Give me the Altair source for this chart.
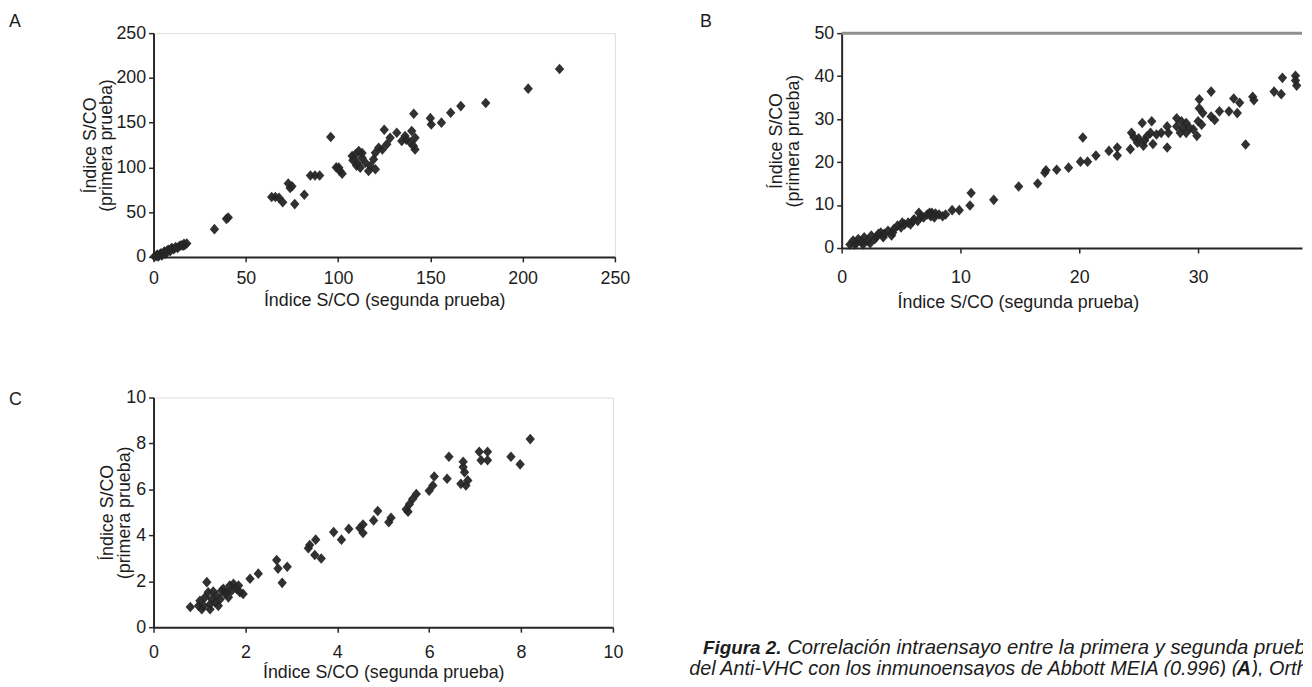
import altair as alt
import pandas as pd

FONT = "Liberation Sans, Arial, Helvetica, sans-serif"
INK = "#262626"
FRAME = "#8f8f8f"
TXT = "#1c1c1c"
DIAMOND = "M0,-1L0.88,0L0,1L-0.88,0Z"

# ---------------- Panel A (Abbott MEIA) ----------------
a_x = [0.5, 1.5, 2, 3, 3.5, 4, 4.5, 5, 5.5, 6, 6.5, 7, 7.5, 8, 9, 9.5, 10, 11, 12, 13, 14, 15, 16, 16.5, 17, 18, 2.5,
       33, 39.5, 40.5,
       64, 66, 68, 70, 73, 74, 75, 76.5, 81.7, 85, 87.5, 90,
       96, 99, 100.4, 101, 102.2,
       107.6, 109.4, 111.2, 113, 110.3, 114.8, 112, 117.5, 120.2, 116.5, 119.2, 110, 108, 113,
       120.2, 122, 124, 126.4, 125, 128.2, 131.8, 134.5, 136.3, 139.9, 141.7, 140.8, 141.7, 139, 137,
       141, 150, 150.5, 156, 161, 166.5, 180, 203, 220]
a_y = [0.5, 1, 2.5, 1.5, 3, 4, 1.5, 3, 5, 6, 3.5, 5, 7, 8, 6.5, 9, 10, 8.5, 11, 10, 12, 13, 12.5, 14.5, 13.5, 15, 0.5,
       31, 42.5, 44,
       67, 67, 66, 61, 82, 77, 79, 59, 69.5, 91, 91, 91,
       134, 100, 99.7, 96, 93,
       112.7, 114.6, 118.3, 110.8, 105.3, 105.3, 99.7, 101.6, 97.9, 96, 109, 102, 108, 116,
       116.4, 122, 120, 125.8, 142, 133, 138.7, 129.5, 135, 140.6, 133, 124, 120, 128, 131,
       160, 155, 148, 150, 161, 168.5, 172, 188, 210]
a_ticks = [0, 50, 100, 150, 200, 250]

# ---------------- Panel B ----------------
b_x = [0.7, 0.97, 1.1, 1.25, 1.4, 1.7, 1.8, 1.9, 2.2, 2.4, 2.5, 2.8, 2.9, 3.1, 3.3, 3.5, 3.6, 3.9, 4.2, 4.3,
       4.4, 4.7, 5.0, 5.1, 5.3, 5.6, 5.8, 6.0, 6.1, 6.4, 6.5, 6.7, 6.9, 7.2, 7.4, 7.5, 7.6, 7.8, 7.9, 8.2,
       8.5, 8.75, 9.3, 9.9,
       10.8, 10.9, 12.8, 14.9, 16.5, 17.1, 17.2, 18.1, 19.1, 20.1, 20.7, 20.3, 21.4, 22.5, 23.2, 23.2,
       24.3, 24.4, 24.9, 25.3, 25.4, 25.7, 26.0, 26.1, 26.5, 26.9, 27.4, 27.5, 27.4, 25.0, 25.5, 26.2, 24.6,
       28.2, 28.6, 29.0, 28.2, 28.75, 29.3, 28.5, 29.0, 29.6, 29.9, 30.0, 30.3, 30.1, 30.4, 30.1, 31.1,
       31.1, 31.4, 31.8, 32.6, 33.0, 33.5, 33.3, 34.0, 34.6, 34.7, 36.4, 37.0, 37.1, 38.2, 38.3, 38.2]
b_y = [0.8, 1.75, 0.8, 1.1, 2.1, 1.4, 0.8, 2.5, 1.7, 1.1, 2.9, 2.1, 2.5, 3.3, 3.6, 2.5, 3.3, 4.0, 2.9, 3.6,
       4.4, 5.2, 4.8, 5.9, 5.5, 5.9, 5.5, 6.3, 6.7, 6.3, 8.2, 7.4, 7.1, 7.8, 8.2, 7.4, 8.2, 7.1, 8.0, 7.8,
       7.4, 7.8, 8.8, 8.8,
       9.9, 12.8, 11.2, 14.3, 15.0, 17.5, 18.1, 18.2, 18.7, 20.1, 20.1, 25.7, 21.5, 22.6, 23.4, 21.5,
       23.0, 26.8, 24.5, 29.1, 23.8, 26.0, 26.8, 29.5, 26.4, 26.8, 28.3, 26.8, 23.4, 25.5, 25.0, 24.2, 25.8,
       30.2, 29.5, 29.1, 28.3, 27.9, 27.9, 26.8, 26.8, 27.6, 26.1, 29.5, 28.7, 32.5, 31.4, 34.6, 36.4,
       30.6, 29.8, 31.8, 31.8, 34.8, 33.8, 31.4, 24.1, 35.2, 34.4, 36.4, 35.8, 39.6, 40.1, 37.8, 39.0]
b_xmax = 38.75         # the panel runs off the right edge of the page in the original
b_xticks = [0, 10, 20, 30]
b_yticks = [0, 10, 20, 30, 40, 50]

# ---------------- Panel C ----------------
c_x = [0.8, 0.98, 1.01, 1.05, 1.09, 1.12, 1.16, 1.19, 1.23, 1.23, 1.27, 1.3, 1.34, 1.37, 1.41, 1.45, 1.48,
       1.52, 1.56, 1.59, 1.63, 1.66, 1.70, 1.74, 1.81, 1.85, 1.88, 1.95,
       2.1, 2.28, 2.68, 2.71, 2.8, 2.91,
       3.37, 3.40, 3.53, 3.51, 3.65, 3.92, 4.09, 4.25, 4.49, 4.56, 4.56, 4.79, 4.88, 5.12, 5.17,
       5.5, 5.54, 5.57, 5.64, 5.72, 6.0, 6.08, 6.11, 6.39, 6.43, 6.69, 6.8, 6.84, 6.77, 6.74, 6.74,
       7.09, 7.27, 7.27, 7.13, 7.78, 7.98, 8.2]
c_y = [0.88, 0.93, 1.15, 0.78, 0.93, 1.3, 1.96, 1.52, 1.0, 0.78, 1.22, 1.55, 1.08, 1.37, 0.93, 1.22, 1.59,
       1.67, 1.45, 1.52, 1.3, 1.81, 1.59, 1.89, 1.67, 1.81, 1.52, 1.45,
       2.11, 2.33, 2.92, 2.55, 1.93, 2.63,
       3.44, 3.58, 3.81, 3.14, 2.99, 4.14, 3.81, 4.28, 4.32, 4.47, 4.1, 4.65, 5.06, 4.57, 4.76,
       5.13, 5.03, 5.35, 5.58, 5.8, 5.94, 6.17, 6.56, 6.46, 7.42, 6.24, 6.17, 6.39, 6.75, 7.2, 6.97,
       7.64, 7.64, 7.27, 7.27, 7.42, 7.09, 8.19]
c_ticks = [0, 2, 4, 6, 8, 10]

x_title = "Índice S/CO (segunda prueba)"
y_title = ["Índice S/CO", "(primera prueba)"]

cap_bold = "Figura 2."
cap_line1 = "Correlación intraensayo entre la primera y segunda prueba"
cap_line2a = "del Anti-VHC con los inmunoensayos de Abbott MEIA (0.996) ("
cap_line2b = "A"
cap_line2c = "), Ortho"


def xaxis(values, label_pad, title_pad, title_x=None):
    kw = dict(values=values, title=x_title, grid=False, domainColor=INK, domainWidth=2,
              tickColor=INK, tickSize=5, tickWidth=1.5, labelFont=FONT, labelFontSize=18,
              labelColor=TXT, labelPadding=label_pad, labelFlush=False, labelOverlap=False,
              titleFont=FONT, titleFontSize=18, titleFontWeight="normal", titleColor=TXT,
              titlePadding=title_pad)
    if title_x is not None:
        kw["titleX"] = title_x
    return alt.Axis(**kw)


def yaxis(values, title_x):
    return alt.Axis(values=values, title=y_title, grid=False, domainColor=INK, domainWidth=2,
                    tickColor=INK, tickSize=5, tickWidth=1.5, labelFont=FONT, labelFontSize=18,
                    labelColor=TXT, labelPadding=3, labelOverlap=False,
                    titleFont=FONT, titleFontSize=18, titleFontWeight="normal", titleColor=TXT,
                    titleLineHeight=17, titleX=title_x)


def panel_title(letter, dx, dy):
    return alt.TitleParams(text=letter, anchor="start", frame="group", dx=dx, dy=dy, font=FONT,
                           fontSize=18, fontWeight="normal", color=TXT, offset=0)


def points(df, xdom, ydom, xax, yax):
    return alt.Chart(df).mark_point(shape=DIAMOND, filled=True, size=115, color=INK, opacity=0.95).encode(
        x=alt.X("x:Q", scale=alt.Scale(domain=xdom, nice=False, zero=False), axis=xax),
        y=alt.Y("y:Q", scale=alt.Scale(domain=ydom, nice=False, zero=False), axis=yax),
    )


dfa = pd.DataFrame({"x": a_x, "y": a_y})
dfb = pd.DataFrame({"x": b_x, "y": b_y})
dfc = pd.DataFrame({"x": c_x, "y": c_y})

panel_a = points(dfa, [0, 250], [0, 250], xaxis(a_ticks, 8, 4), yaxis(a_ticks, -55)).properties(
    width=466, height=226, title=panel_title("A", -146, 7))

b_pts = points(dfb, [0, b_xmax], [0, 50], xaxis(b_xticks, 16, 7, 178), yaxis(b_yticks, -57))
b_top = alt.Chart(pd.DataFrame({"k": [0]})).mark_rule(color=FRAME, strokeWidth=3).encode(
    y=alt.datum(b_yticks[-1]))
panel_b = alt.layer(b_pts, b_top).properties(
    width=465, height=217, title=panel_title("B", -143, 7),
    view=alt.ViewBackground(strokeOpacity=0))

panel_c = points(dfc, [0, 10], [0, 10], xaxis(c_ticks, 12, 2), yaxis(c_ticks, -37)).properties(
    width=464, height=232, title=panel_title("C", -146, 21))


def cap_text(txt, x, y, weight="normal", size=20.5):
    return alt.Chart(pd.DataFrame({"t": [txt]})).mark_text(
        align="left", baseline="middle", font=FONT, fontSize=size, fontStyle="italic",
        fontWeight=weight, color=TXT, clip=True).encode(
        text="t:N", x=alt.value(x), y=alt.value(y))


caption = alt.layer(
    cap_text(cap_bold, 14, 253, "bold", 19),
    cap_text(cap_line1, 99, 253),
    cap_text(cap_line2a, 0, 274, size=20),
    cap_text(cap_line2b, 553, 274, "bold", 20),
    cap_text(cap_line2c, 568, 274, size=20),
).properties(width=620, height=282, view=alt.ViewBackground(strokeOpacity=0))

row1 = alt.hconcat(panel_a, panel_b, spacing=70)
row2 = alt.hconcat(panel_c, caption, spacing=66)

chart = alt.concat(row1, row2, columns=1, align="none", spacing=77).properties(
    padding={"left": 0, "top": 1, "right": 0, "bottom": 0}
).configure_view(stroke=FRAME, strokeWidth=3).configure(background="white")

chart.save("out.html", embed_options={"renderer": "svg", "actions": False})
